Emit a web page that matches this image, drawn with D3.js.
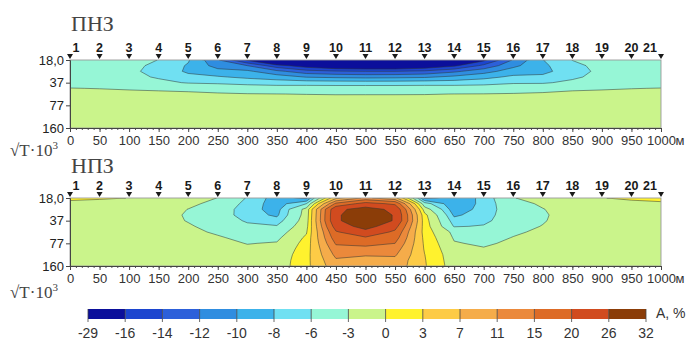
<!DOCTYPE html>
<html>
<head>
<meta charset="utf-8">
<script src="https://d3js.org/d3.v7.min.js"></script>
<style>
  body { margin: 0; background: #fff; }
  svg { display: block; }
</style>
</head>
<body>
<svg id="chart" width="691" height="340"></svg>
<script>
// profile stations (m along the line)
const distances = [0, 50, 100, 150, 200, 250, 300, 350, 400, 450, 500, 550, 600, 650, 700, 750, 800, 850, 900, 950, 1000];
const stations = ['1', '2', '3', '4', '5', '6', '7', '8', '9', '10', '11', '12', '13', '14', '15', '16', '17', '18', '19', '20', '21'];
// grid rows, in steps of the depth axis (0 = 18,0 ... 3 = 160)
const depthLevels = [0, 0.25, 0.5, 0.75, 1, 1.25, 1.5, 1.75, 2, 2.25, 2.5, 2.75, 3];
const depthTicks = [0, 1, 2, 3];
const depthLabels = ['18,0', '37', '77', '160'];

const legendBreaks = [-29, -16, -14, -12, -10, -8, -6, -3, 0, 3, 7, 11, 15, 20, 26, 32];
const legendColors = ['#0b0f9b', '#1c45cf', '#2c60da', '#2f8de0', '#3cb2ea', '#70e0f2', '#96f6d6', '#caf48b',
  '#fff22e', '#fdcb46', '#f5ac4a', '#eb893b', '#dd6b26', '#d14b1f', '#8b3d08'];

// ПНЗ, A %, one row per depth level, one value per station
const pnzRows = [
  [-4.5, -4.7, -5.0, -6.05, -7.8, -11.8, -16.3, -21, -25, -27, -28, -28, -27, -23, -16.5, -11.8, -8.05, -5.95, -5.0, -4.7, -4.5],
  [-4.6, -4.9, -5.3, -6.6, -8.2, -10.8, -12.0, -15.2, -17.2, -18.5, -19, -19, -18, -16.4, -13.5, -10.5, -8.4, -6.6, -5.3, -4.9, -4.6],
  [-4.6, -5.0, -5.5, -6.8, -8.3, -9.3, -9.6, -11.5, -13.2, -13.8, -14, -14, -13.6, -12.4, -10.8, -9.0, -8.5, -7.0, -5.4, -5.0, -4.6],
  [-4.4, -4.8, -5.2, -6.3, -7.5, -7.8, -8.4, -9.0, -10.1, -10.4, -10.6, -10.5, -10.3, -9.5, -8.6, -7.6, -7.6, -6.5, -5.1, -4.8, -4.4],
  [-3.8, -4.1, -4.6, -5.3, -6.2, -6.4, -6.7, -7.0, -7.0, -7.1, -7.1, -7.1, -7.0, -7.0, -6.8, -6.3, -6.3, -5.4, -4.5, -4.0, -3.8],
  [-2.95, -3.05, -3.2, -3.4, -3.6, -4.3, -4.8, -4.9, -4.9, -4.9, -4.9, -4.9, -4.9, -4.9, -4.8, -4.3, -3.9, -3.4, -3.2, -3.05, -2.95],
  [-2.3, -2.4, -2.5, -2.5, -2.6, -2.7, -2.9, -2.98, -3.05, -3.1, -3.1, -3.1, -3.08, -2.98, -2.95, -2.85, -2.7, -2.5, -2.5, -2.4, -2.3],
  [-2.0, -2.05, -2.1, -2.1, -2.15, -2.2, -2.3, -2.3, -2.3, -2.35, -2.3, -2.3, -2.3, -2.3, -2.2, -2.2, -2.1, -2.1, -2.1, -2.05, -2.0],
  [-1.8, -1.8, -1.85, -1.85, -1.9, -1.95, -2.0, -2.0, -2.0, -2.0, -2.0, -2.0, -2.0, -2.0, -1.95, -1.9, -1.9, -1.85, -1.85, -1.8, -1.8],
  [-1.7, -1.7, -1.7, -1.7, -1.75, -1.8, -1.85, -1.85, -1.85, -1.85, -1.85, -1.85, -1.85, -1.85, -1.8, -1.8, -1.75, -1.7, -1.7, -1.7, -1.7],
  [-1.6, -1.6, -1.6, -1.6, -1.65, -1.7, -1.7, -1.7, -1.7, -1.7, -1.7, -1.7, -1.7, -1.7, -1.7, -1.65, -1.65, -1.6, -1.6, -1.6, -1.6],
  [-1.5, -1.5, -1.5, -1.5, -1.55, -1.6, -1.6, -1.6, -1.6, -1.6, -1.6, -1.6, -1.6, -1.6, -1.6, -1.55, -1.55, -1.5, -1.5, -1.5, -1.5],
  [-1.5, -1.5, -1.5, -1.5, -1.5, -1.5, -1.55, -1.55, -1.55, -1.55, -1.55, -1.55, -1.55, -1.55, -1.5, -1.5, -1.5, -1.5, -1.5, -1.5, -1.5]
];

// НПЗ, A %
const npzRows = [
  [0.8, 0.4, -0.05, -1.5, -1.8, -3.05, -6.2, -9.0, -10.5, 6, 12, 8, -10.5, -9.3, -7.5, -3.1, -2.0, -1.2, -0.1, 0.5, 0.9],
  [-1.0, -1.2, -1.4, -1.7, -2.4, -3.8, -6.8, -9.0, -6.0, 16, 22, 19, -5.0, -9.6, -7.4, -4.0, -2.6, -1.5, -1.2, -0.8, -0.5],
  [-1.3, -1.4, -1.5, -1.8, -3.05, -4.5, -7.2, -8.8, -2.0, 24.5, 28.5, 24.5, -1.5, -9.3, -7.2, -4.5, -3.1, -1.8, -1.4, -1.3, -1.2],
  [-1.4, -1.5, -1.6, -1.9, -3.3, -4.8, -7.0, -8.4, -1.8, 25, 30.5, 25.5, 0.8, -8.4, -6.9, -4.6, -3.3, -1.9, -1.5, -1.4, -1.4],
  [-1.5, -1.5, -1.6, -1.9, -3.15, -4.6, -6.3, -7.2, -1.5, 25, 30.5, 25.5, 1.2, -7.2, -6.6, -4.4, -3.2, -1.8, -1.5, -1.5, -1.5],
  [-1.5, -1.5, -1.6, -1.8, -2.7, -4.0, -5.5, -5.8, -1.0, 22.5, 28.5, 22, 1.4, -6.2, -5.8, -3.9, -2.9, -1.7, -1.5, -1.5, -1.5],
  [-1.5, -1.5, -1.6, -1.7, -2.3, -3.4, -4.6, -4.5, -0.3, 19.5, 24, 19, 1.5, -3.8, -4.8, -3.4, -2.5, -1.6, -1.5, -1.5, -1.5],
  [-1.5, -1.5, -1.6, -1.6, -2.0, -2.7, -3.8, -3.6, 0.5, 17.5, 19.5, 17, 2.0, -3.3, -4.0, -2.9, -2.2, -1.5, -1.5, -1.5, -1.5],
  [-1.5, -1.5, -1.5, -1.5, -1.8, -2.2, -3.1, -2.8, 1.0, 15.5, 16.5, 15, 2.4, -2.8, -3.4, -2.5, -1.9, -1.5, -1.5, -1.5, -1.5],
  [-1.5, -1.5, -1.5, -1.5, -1.7, -1.9, -2.5, -2.3, 1.4, 13.5, 13.5, 13, 2.7, -2.3, -2.8, -2.1, -1.7, -1.5, -1.5, -1.5, -1.5],
  [-1.5, -1.5, -1.5, -1.5, -1.6, -1.7, -2.0, -1.9, 1.7, 12, 11.2, 11.5, 3.05, -1.9, -2.2, -1.8, -1.6, -1.5, -1.5, -1.5, -1.5],
  [-1.5, -1.5, -1.5, -1.5, -1.5, -1.6, -1.8, -1.7, 1.9, 10.5, 10.3, 10, 3.2, -1.7, -1.8, -1.6, -1.5, -1.5, -1.5, -1.5, -1.5],
  [-1.5, -1.5, -1.5, -1.5, -1.5, -1.5, -1.6, -1.6, 2.0, 9.5, 9.8, 9.5, 3.3, -1.5, -1.6, -1.5, -1.5, -1.5, -1.5, -1.5, -1.5]
];

const svg = d3.select('#chart');
const sans = 'Liberation Sans, Arial, sans-serif';
const serif = 'Liberation Serif, DejaVu Serif, serif';

// horizontal scale shared by both sections
const x = d3.scaleLinear().domain([0, 1000]).range([70, 661]);

function drawPanel(panel, idx) {
  const y = d3.scaleLinear().domain([0, 3]).range([panel.top, panel.top + 68]);
  const nx = distances.length;
  const ny = depthLevels.length;
  const g = svg.append('g').attr('class', 'panel');

  // section title
  g.append('text')
    .attr('x', 71)
    .attr('y', panel.titleY)
    .style('font-family', serif)
    .style('font-size', '22px')
    .style('fill', '#444')
    .text(panel.title);

  // grid coords -> pixels (d3.contours puts sample i at i + 0.5)
  const gx = d3.scaleLinear().domain([0.5, nx - 0.5]).range([x(distances[0]), x(distances[nx - 1])]);
  const gy = d3.scaleLinear().domain([0.5, ny - 0.5]).range([y(depthLevels[0]), y(depthLevels[ny - 1])]);
  const path = d3.geoPath(d3.geoTransform({
    point(px, py) { this.stream.point(gx(px), gy(py)); }
  }));

  const clipId = 'clip' + idx;
  svg.append('clipPath').attr('id', clipId)
    .append('rect')
    .attr('x', x(0)).attr('y', y(0))
    .attr('width', x(1000) - x(0)).attr('height', y(3) - y(0));

  const contours = d3.contours()
    .size([nx, ny])
    .thresholds(legendBreaks.slice(0, -1))(panel.rows.flat());

  const plot = g.append('g').attr('clip-path', `url(#${clipId})`);
  plot.selectAll('path.band')
    .data(contours)
    .enter()
    .append('path')
    .attr('class', 'band')
    .attr('d', path)
    .style('fill', (d, i) => legendColors[i])
    .style('stroke', 'none');
  // isolines
  plot.selectAll('path.iso')
    .data(contours.slice(1))
    .enter()
    .append('path')
    .attr('class', 'iso')
    .attr('d', path)
    .style('fill', 'none')
    .style('stroke', '#2e3434')
    .style('stroke-width', 0.6)
    .style('stroke-opacity', 0.85);

  // frame
  g.append('rect')
    .attr('x', x(0)).attr('y', y(0))
    .attr('width', x(1000) - x(0)).attr('height', y(3) - y(0))
    .style('fill', 'none')
    .style('stroke', '#9a9a9a')
    .style('stroke-width', 0.9);

  // depth axis
  const yAxis = g.append('g')
    .attr('transform', `translate(${x(0)},0)`)
    .call(d3.axisLeft(y).tickValues(depthTicks).tickSize(4).tickPadding(2)
      .tickFormat((d, i) => depthLabels[i]));
  yAxis.select('.domain').style('stroke', '#444');
  yAxis.selectAll('line').style('stroke', '#444');
  yAxis.selectAll('text').style('font-family', sans).style('font-size', '13px').style('fill', '#222');

  // distance axis: minor ticks every 10 m, labels every 50 m
  const minor = g.append('g')
    .attr('transform', `translate(0,${y(3)})`)
    .call(d3.axisBottom(x).ticks(100).tickSize(2).tickFormat(''));
  minor.select('.domain').remove();
  minor.selectAll('line').style('stroke', '#555');

  const xAxis = g.append('g')
    .attr('transform', `translate(0,${y(3)})`)
    .call(d3.axisBottom(x).tickValues(distances).tickSize(4).tickPadding(4).tickSizeOuter(0)
      .tickFormat(d3.format('d')));
  xAxis.select('.domain').style('stroke', '#444');
  xAxis.selectAll('line').style('stroke', '#444');
  xAxis.selectAll('text').style('font-family', sans).style('font-size', '13px').style('fill', '#333');
  g.append('text')
    .attr('x', x(1000) + 14.5)
    .attr('y', y(3) + 17)
    .style('font-family', sans)
    .style('font-size', '13px')
    .style('fill', '#333')
    .text('м');

  // sqrt(T)*10^3 caption
  const cap = g.append('text')
    .attr('x', 10)
    .attr('y', panel.capY)
    .style('font-family', serif)
    .style('font-size', '17px')
    .style('fill', '#444');
  cap.append('tspan').text('√T·10');
  cap.append('tspan').attr('dy', -7).style('font-size', '11px').text('3');

  // station markers
  const st = g.append('g').selectAll('g')
    .data(distances)
    .enter()
    .append('g');
  st.append('path')
    .attr('d', d => `M${x(d) - 3},${y(0) - 6}L${x(d) + 3},${y(0) - 6}L${x(d)},${y(0) - 1}Z`)
    .style('fill', '#1a1a1a');
  st.append('text')
    .attr('x', (d, i) => x(d) + (i === 0 ? 6 : i === distances.length - 1 ? -11 : 0))
    .attr('y', y(0) - 8)
    .attr('text-anchor', 'middle')
    .style('font-family', sans)
    .style('font-weight', 'bold')
    .style('font-size', '12.5px')
    .style('fill', '#1a1a1a')
    .text((d, i) => stations[i]);
}

[
  { title: 'ПНЗ', rows: pnzRows, top: 60, titleY: 31, capY: 156 },
  { title: 'НПЗ', rows: npzRows, top: 198, titleY: 173, capY: 298 }
].forEach(drawPanel);

// colour legend
const lx = d3.scaleLinear().domain([0, legendBreaks.length - 1]).range([88, 646]);
const legend = svg.append('g').attr('class', 'legend');
legend.selectAll('rect')
  .data(legendColors)
  .enter()
  .append('rect')
  .attr('x', (d, i) => lx(i))
  .attr('y', 309)
  .attr('width', (d, i) => lx(i + 1) - lx(i))
  .attr('height', 10)
  .style('fill', d => d);
legend.selectAll('line')
  .data(legendBreaks)
  .enter()
  .append('line')
  .attr('x1', (d, i) => lx(i))
  .attr('x2', (d, i) => lx(i))
  .attr('y1', 309)
  .attr('y2', 322)
  .style('stroke', '#444')
  .style('stroke-width', 0.8);
legend.selectAll('text.lab')
  .data(legendBreaks)
  .enter()
  .append('text')
  .attr('class', 'lab')
  .attr('x', (d, i) => lx(i))
  .attr('y', 338)
  .attr('text-anchor', 'middle')
  .style('font-family', sans)
  .style('font-size', '14px')
  .style('fill', '#333')
  .text(d => d);
legend.append('text')
  .attr('x', 656)
  .attr('y', 318)
  .style('font-family', sans)
  .style('font-size', '14px')
  .style('fill', '#333')
  .text('A, %');
</script>
</body>
</html>
